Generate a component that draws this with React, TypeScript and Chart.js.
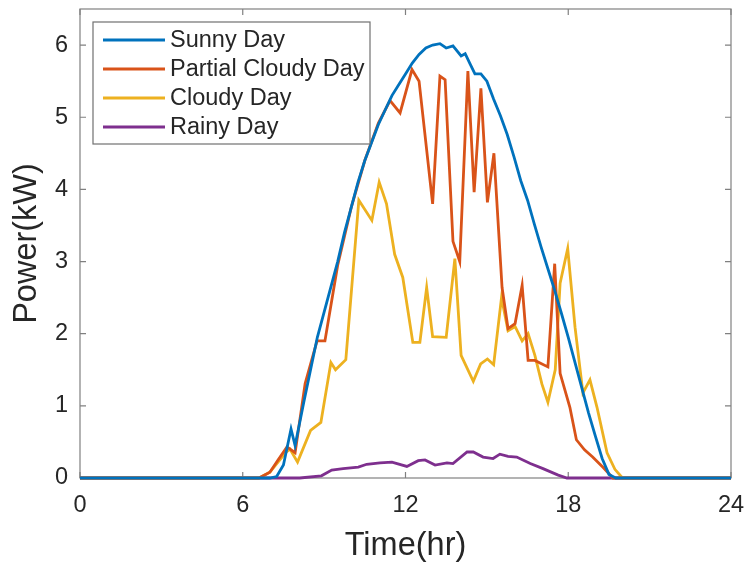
import React, { useEffect, useRef } from "react";
import { Chart, registerables } from "chart.js";

Chart.register(...registerables);

const seriesLabels = ["Sunny Day", "Partial Cloudy Day", "Cloudy Day", "Rainy Day"];
const seriesColors = ["#0072BD", "#D95319", "#EDB120", "#7E2F8E"];

const xTicks = [0, 6, 12, 18, 24];
const yTicks = [0, 1, 2, 3, 4, 5, 6];

const sunnyHours = [0, 7.0, 7.25, 7.5, 7.78, 7.93, 8.25, 8.5, 8.75, 9.0, 9.25, 9.5, 9.75, 10.0, 10.25, 10.5, 10.75, 11.0, 11.25, 11.5, 11.75, 12.0, 12.25, 12.5, 12.75, 13.0, 13.27, 13.5, 13.75, 14.05, 14.2, 14.38, 14.56, 14.78, 15.0, 15.25, 15.5, 15.75, 16.0, 16.25, 16.5, 16.75, 17.0, 17.25, 17.5, 17.75, 18.0, 18.25, 18.5, 18.75, 19.0, 19.25, 19.5, 19.75, 24];
const sunnyKW = [0, 0, 0.02, 0.18, 0.68, 0.45, 1.05, 1.5, 1.95, 2.3, 2.65, 3.0, 3.4, 3.75, 4.1, 4.4, 4.65, 4.9, 5.1, 5.3, 5.45, 5.6, 5.75, 5.87, 5.96, 6.0, 6.02, 5.96, 5.99, 5.85, 5.88, 5.74, 5.6, 5.6, 5.5, 5.25, 5.02, 4.76, 4.45, 4.12, 3.85, 3.52, 3.2, 2.9, 2.6, 2.28, 1.95, 1.6, 1.25, 0.9, 0.58, 0.27, 0.05, 0, 0];

const partialHours = [0, 6.6, 7.0, 7.3, 7.63, 7.93, 8.3, 8.74, 9.03, 9.5, 10.0, 10.5, 11.0, 11.43, 11.8, 12.24, 12.5, 13.0, 13.27, 13.46, 13.75, 14.0, 14.3, 14.53, 14.78, 15.02, 15.26, 15.56, 15.78, 16.04, 16.3, 16.52, 16.77, 17.25, 17.5, 17.7, 18.06, 18.3, 18.6, 18.9, 19.28, 19.65, 24];
const partialKW = [0, 0, 0.08, 0.25, 0.43, 0.35, 1.31, 1.9, 1.9, 2.95, 3.75, 4.4, 4.92, 5.23, 5.06, 5.66, 5.5, 3.8, 5.57, 5.52, 3.28, 3.0, 5.64, 3.96, 5.4, 3.82, 4.5, 2.64, 2.07, 2.14, 2.67, 1.63, 1.63, 1.54, 2.97, 1.45, 0.98, 0.53, 0.39, 0.29, 0.15, 0, 0];

const cloudyHours = [0, 6.6, 7.0, 7.3, 7.6, 7.74, 8.02, 8.5, 8.88, 9.25, 9.42, 9.8, 10.28, 10.76, 11.03, 11.3, 11.6, 11.9, 12.27, 12.53, 12.78, 13.0, 13.5, 13.82, 14.05, 14.5, 14.77, 15.02, 15.25, 15.54, 15.78, 16.04, 16.3, 16.52, 16.77, 17.03, 17.25, 17.52, 17.7, 17.98, 18.25, 18.54, 18.8, 19.06, 19.43, 19.72, 20.0, 24];
const cloudyKW = [0, 0, 0.08, 0.22, 0.36, 0.4, 0.22, 0.66, 0.77, 1.6, 1.5, 1.64, 3.85, 3.57, 4.1, 3.8, 3.1, 2.78, 1.88, 1.88, 2.64, 1.96, 1.95, 3.04, 1.7, 1.34, 1.58, 1.65, 1.57, 2.5, 2.04, 2.1, 1.9, 2.0, 1.7, 1.3, 1.05, 1.5, 2.7, 3.18, 2.09, 1.18, 1.36, 0.98, 0.35, 0.12, 0, 0];

const rainyHours = [0, 8.1, 8.9, 9.28, 9.7, 10.26, 10.57, 11.06, 11.5, 12.05, 12.47, 12.72, 13.09, 13.53, 13.75, 14.27, 14.5, 14.86, 15.23, 15.48, 15.78, 16.1, 16.6, 17.07, 17.63, 17.95, 24];
const rainyKW = [0, 0, 0.03, 0.11, 0.13, 0.15, 0.19, 0.21, 0.22, 0.16, 0.24, 0.25, 0.18, 0.21, 0.2, 0.36, 0.36, 0.29, 0.27, 0.33, 0.3, 0.29, 0.2, 0.13, 0.04, 0, 0];

const FONT = "'Liberation Sans', Arial, Helvetica, sans-serif";

const zip = (xs: number[], ys: number[]) => xs.map((x, i) => ({ x, y: ys[i] }));

const framePlugin = {
  id: "matlabFrame",
  beforeDatasetsDraw(chart: any) {
    const { ctx, chartArea: a, scales } = chart;
    ctx.save();
    ctx.strokeStyle = "#808080";
    ctx.lineWidth = 1.2;
    ctx.strokeRect(a.left, a.top, a.right - a.left, a.bottom - a.top);
    const tl = 6;
    ctx.beginPath();
    for (const v of xTicks) {
      const px = scales.x.getPixelForValue(v);
      ctx.moveTo(px, a.bottom);
      ctx.lineTo(px, a.bottom - tl);
      ctx.moveTo(px, a.top);
      ctx.lineTo(px, a.top + tl);
    }
    for (const v of yTicks) {
      const py = scales.y.getPixelForValue(v);
      ctx.moveTo(a.left, py);
      ctx.lineTo(a.left + tl, py);
      ctx.moveTo(a.right, py);
      ctx.lineTo(a.right - tl, py);
    }
    ctx.stroke();
    ctx.restore();
  },
};

const legendPlugin = {
  id: "boxLegend",
  afterDraw(chart: any) {
    const { ctx, chartArea: a } = chart;
    const left = a.left + 13;
    const top = a.top + 13;
    const w = 277;
    const h = 122;
    ctx.save();
    ctx.fillStyle = "#ffffff";
    ctx.fillRect(left, top, w, h);
    ctx.strokeStyle = "#707070";
    ctx.lineWidth = 1.2;
    ctx.strokeRect(left, top, w, h);
    ctx.font = `23.5px ${FONT}`;
    ctx.textBaseline = "middle";
    ctx.textAlign = "left";
    chart.data.datasets.forEach((ds: any, i: number) => {
      const cy = top + 18 + i * 29;
      ctx.strokeStyle = ds.borderColor;
      ctx.lineWidth = 3;
      ctx.beginPath();
      ctx.moveTo(left + 10, cy);
      ctx.lineTo(left + 72, cy);
      ctx.stroke();
      ctx.fillStyle = "#262626";
      ctx.fillText(ds.label, left + 77, cy + 1);
    });
    ctx.restore();
  },
};

export default function App() {
  const ref = useRef<HTMLCanvasElement | null>(null);

  useEffect(() => {
    if (!ref.current) return;
    const series = [
      zip(sunnyHours, sunnyKW),
      zip(partialHours, partialKW),
      zip(cloudyHours, cloudyKW),
      zip(rainyHours, rainyKW),
    ];
    const chart = new Chart(ref.current, {
      type: "line",
      data: {
        datasets: series.map((d, i) => ({
          label: seriesLabels[i],
          data: d,
          borderColor: seriesColors[i],
          backgroundColor: seriesColors[i],
          borderWidth: 2.8,
          pointRadius: 0,
          tension: 0,
          clip: 4,
        })),
      },
      options: {
        responsive: false,
        maintainAspectRatio: false,
        animation: false,
        layout: { padding: { top: 9, right: 19, left: 0, bottom: 0 } },
        plugins: { legend: { display: false }, tooltip: { enabled: false } },
        scales: {
          x: {
            type: "linear",
            min: 0,
            max: 24,
            afterBuildTicks: (s: any) => {
              s.ticks = xTicks.map((v) => ({ value: v }));
            },
            afterFit: (s: any) => {
              s.height = 89;
              s.paddingLeft = 0;
              s.paddingRight = 0;
            },
            grid: { display: false, drawTicks: false },
            border: { display: false },
            ticks: {
              padding: 13,
              color: "#262626",
              font: { size: 23.5, family: FONT },
              maxRotation: 0,
            },
            title: {
              display: true,
              text: "Time(hr)",
              color: "#262626",
              font: { size: 32.5, family: FONT, lineHeight: 1.2 },
              padding: { top: 0, bottom: 1 },
            },
          },
          y: {
            type: "linear",
            min: 0,
            max: 6.5,
            afterBuildTicks: (s: any) => {
              s.ticks = yTicks.map((v) => ({ value: v }));
            },
            afterFit: (s: any) => {
              s.width = 80;
              s.paddingTop = 0;
              s.paddingBottom = 0;
            },
            grid: { display: false, drawTicks: false },
            border: { display: false },
            ticks: {
              padding: 12,
              color: "#262626",
              font: { size: 23.5, family: FONT },
            },
            title: {
              display: true,
              text: "Power(kW)",
              color: "#262626",
              font: { size: 32.5, family: FONT, lineHeight: 1.2 },
              padding: { top: 8, bottom: 0 },
            },
          },
        },
      },
      plugins: [framePlugin, legendPlugin],
    });
    return () => chart.destroy();
  }, []);

  return (
    <div style={{ position: "fixed", left: 0, top: 0, width: 750, height: 567, background: "#fff" }}>
      <canvas ref={ref} width={750} height={567} style={{ display: "block", width: 750, height: 567 }} />
    </div>
  );
}
